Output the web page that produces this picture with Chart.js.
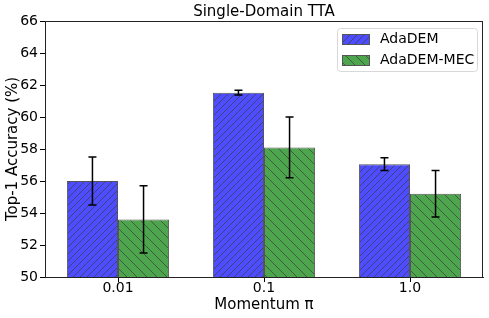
<!DOCTYPE html>
<html>
<head>
<meta charset="utf-8">
<script src="https://cdn.jsdelivr.net/npm/chart.js@4"></script>
<style>
  body { margin: 0; background: #fff; }
</style>
</head>
<body>
<canvas id="grafica" width="489" height="318"></canvas>
<script>
// data
var categorias = ['0.01', '0.1', '1.0'];
var adaDem = [56.0, 61.52, 57.05];
var adaDemErr = [1.5, 0.15, 0.4];
var adaDemMec = [53.6, 58.1, 55.2];
var adaDemMecErr = [2.1, 1.9, 1.45];
var ticksY = [50, 52, 54, 56, 58, 60, 62, 64, 66];

var fuente = "'DejaVu Sans', sans-serif";

// trama rayada (hatch) para las barras
function crearTrama(fondo, paso, sentido) {
  var c = document.createElement('canvas');
  c.width = paso; c.height = paso;
  var g = c.getContext('2d');
  g.fillStyle = fondo;
  g.fillRect(0, 0, paso, paso);
  g.strokeStyle = 'rgba(60,60,60,0.7)';
  g.lineWidth = 1;
  g.beginPath();
  if (sentido === '/') {
    g.moveTo(-1, paso + 1); g.lineTo(paso + 1, -1);
    g.moveTo(-1, 1); g.lineTo(1, -1);
    g.moveTo(paso - 1, paso + 1); g.lineTo(paso + 1, paso - 1);
  } else {
    g.moveTo(-1, -1); g.lineTo(paso + 1, paso + 1);
    g.moveTo(paso - 1, -1); g.lineTo(paso + 1, 1);
    g.moveTo(-1, paso - 1); g.lineTo(1, paso + 1);
  }
  g.stroke();
  return document.getElementById('grafica').getContext('2d').createPattern(c, 'repeat');
}

var tramaAzul = crearTrama('#4d4dff', 7, '/');
var tramaVerde = crearTrama('#4da64d', 10, '\\');

var errores = [adaDemErr, adaDemMecErr];

var pluginExtras = {
  id: 'extras',
  afterDatasetsDraw: function (chart) {
    var ctx = chart.ctx;
    var y = chart.scales.y;
    ctx.save();
    ctx.strokeStyle = '#000';
    ctx.lineWidth = 1.5;
    chart.data.datasets.forEach(function (ds, d) {
      var meta = chart.getDatasetMeta(d);
      meta.data.forEach(function (bar, i) {
        var v = ds.data[i], e = errores[d][i];
        var x = bar.x;
        var y1 = y.getPixelForValue(v + e), y2 = y.getPixelForValue(v - e);
        ctx.beginPath();
        ctx.moveTo(x, y1); ctx.lineTo(x, y2);
        ctx.moveTo(x - 4, y1); ctx.lineTo(x + 4, y1);
        ctx.moveTo(x - 4, y2); ctx.lineTo(x + 4, y2);
        ctx.stroke();
      });
    });
    ctx.restore();
  },
  afterDraw: function (chart) {
    var ctx = chart.ctx;
    var a = chart.chartArea;
    ctx.save();
    // marco completo
    ctx.strokeStyle = '#222';
    ctx.lineWidth = 1;
    ctx.strokeRect(a.left + 0.5, a.top + 0.5, a.right - a.left - 1, a.bottom - a.top);
    // titulo
    ctx.fillStyle = '#000';
    ctx.font = '15px ' + fuente;
    ctx.textAlign = 'center';
    ctx.textBaseline = 'middle';
    ctx.fillText('Single-Domain TTA', (a.left + a.right) / 2, 12);
    // leyenda
    var lx = 337, ly = 28, lw = 140, lh = 43;
    ctx.fillStyle = 'rgba(255,255,255,0.8)';
    ctx.strokeStyle = '#d8d8d8';
    ctx.beginPath();
    ctx.roundRect(lx + 0.5, ly + 0.5, lw, lh, 3);
    ctx.fill();
    ctx.stroke();
    var tramas = [tramaAzul, tramaVerde];
    chart.data.datasets.forEach(function (ds, d) {
      var py = ly + 6 + d * 21;
      ctx.fillStyle = tramas[d];
      ctx.fillRect(342, py, 27, 10);
      ctx.strokeStyle = '#555';
      ctx.strokeRect(342.5, py + 0.5, 27, 10);
      ctx.fillStyle = '#000';
      ctx.font = '14px ' + fuente;
      ctx.textAlign = 'left';
      ctx.textBaseline = 'middle';
      ctx.fillText(ds.label, 380, py + 5);
    });
    ctx.restore();
  }
};

new Chart(document.getElementById('grafica'), {
  type: 'bar',
  data: {
    labels: categorias,
    datasets: [
      { label: 'AdaDEM', data: adaDem, backgroundColor: tramaAzul, borderColor: '#555', borderWidth: 1 },
      { label: 'AdaDEM-MEC', data: adaDemMec, backgroundColor: tramaVerde, borderColor: '#555', borderWidth: 1 }
    ]
  },
  options: {
    responsive: false,
    animation: false,
    devicePixelRatio: 1,
    layout: { padding: { top: 21, right: 6, left: 0, bottom: 0 } },
    datasets: { bar: { categoryPercentage: 0.7, barPercentage: 1.0 } },
    plugins: { legend: { display: false }, tooltip: { enabled: false } },
    scales: {
      x: {
        afterFit: function (s) { s.height = 41; },
        grid: { display: true, drawOnChartArea: false, offset: false, tickLength: 5, color: '#000' },
        border: { color: '#222' },
        ticks: { color: '#000', font: { family: fuente, size: 14 }, padding: -2 },
        title: { display: true, text: 'Momentum π', color: '#000', font: { family: fuente, size: 15 }, padding: { top: 0, bottom: 4 } }
      },
      y: {
        min: 50, max: 66,
        afterFit: function (s) { s.width = 45; },
        afterBuildTicks: function (s) { s.ticks = ticksY.map(function (v) { return { value: v }; }); },
        grid: { display: true, drawOnChartArea: false, tickLength: 5, color: '#000' },
        border: { color: '#222' },
        ticks: { color: '#000', font: { family: fuente, size: 14 }, padding: 2 },
        title: { display: true, text: 'Top-1 Accuracy (%)', color: '#000', font: { family: fuente, size: 15 }, padding: { top: 4, bottom: 0 } }
      }
    }
  },
  plugins: [pluginExtras]
});
</script>
</body>
</html>
